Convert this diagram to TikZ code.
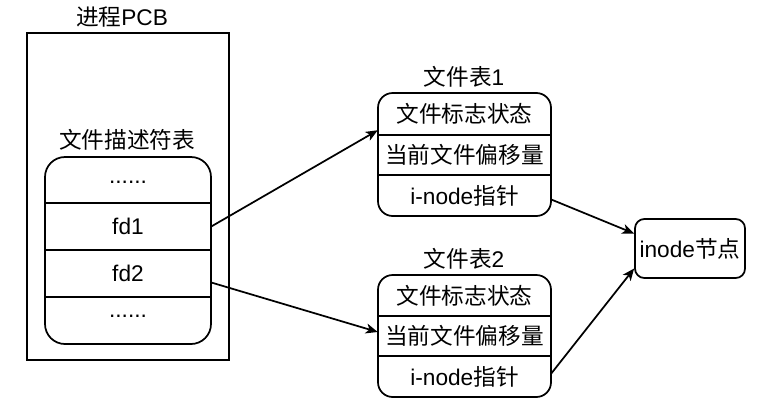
\documentclass[tikz,border=0pt]{standalone}
\usepackage{fontspec}
\setmainfont{Liberation Sans}
\newfontfamily\cjk{Noto Sans CJK SC}
\usetikzlibrary{fit,calc,arrows.meta}
\begin{document}
\begin{tikzpicture}[x=0.75pt,y=-0.75pt,
  every node/.style={font=\fontsize{17}{20}\selectfont, inner sep=0pt},
  box/.style={draw, line width=1.3pt},
  row/.style={inner sep=0pt},
  txt/.style={inner sep=0pt},
  sep/.style={line width=1.3pt},
  conn/.style={line width=1.3pt, -{Stealth[length=9pt,width=7.5pt,inset=2.5pt]}}]
\useasboundingbox[fill=white] (0,0) rectangle (759,400);
% PCB
\node[box, fit={(27,33) (229,360)}] (pcb) {};
\node[txt] (pcblbl) at (122,17) {{\cjk 进程}PCB};
\node[txt] (fdlbl) at (127,140) {\cjk 文件描述符表};
% fd table
\node[box, rounded corners=15pt, fit={(45,157) (211,344)}] (fdt) {};
\node[row, fit={(45,157) (211,203)}] (fd0) {};
\node[row, fit={(45,203) (211,250)}] (fd1) {};
\node[row, fit={(45,250) (211,297)}] (fd2) {};
\node[row, fit={(45,297) (211,344)}] (fd3) {};
\node[txt] (fd0t) at ($(fd0.center)+(0,2)$) {......};
\node[txt] (fd1t) at (fd1.center) {fd1};
\node[txt] (fd2t) at (fd2.center) {fd2};
\node[txt] (fd3t) at ($(fd3.center)+(0,-4)$) {......};
\draw[sep] (fd0.south west) -- (fd0.south east);
\draw[sep] (fd1.south west) -- (fd1.south east);
\draw[sep] (fd2.south west) -- (fd2.south east);
% file table 1
\node[txt] (t1lbl) at (464,77) {{\cjk 文件表}1};
\node[box, rounded corners=11pt, fit={(378,93) (551,216)}] (t1) {};
\node[row, fit={(378,93) (551,135)}] (t1a) {};
\node[row, fit={(378,135) (551,175)}] (t1b) {};
\node[row, fit={(378,175) (551,216)}] (t1c) {};
\node[txt] at (t1a.center) {\cjk 文件标志状态};
\node[txt] at (t1b.center) {\cjk 当前文件偏移量};
\node[txt] at (t1c.center) {i-node{\cjk 指针}};
\draw[sep] (t1a.south west) -- (t1a.south east);
\draw[sep] (t1b.south west) -- (t1b.south east);
% file table 2
\node[txt] (t2lbl) at (464,259) {{\cjk 文件表}2};
\node[box, rounded corners=11pt, fit={(378,275) (551,397)}] (t2) {};
\node[row, fit={(378,275) (551,316)}] (t2a) {};
\node[row, fit={(378,316) (551,356)}] (t2b) {};
\node[row, fit={(378,356) (551,397)}] (t2c) {};
\node[txt] at (t2a.center) {\cjk 文件标志状态};
\node[txt] at (t2b.center) {\cjk 当前文件偏移量};
\node[txt] at (t2c.center) {i-node{\cjk 指针}};
\draw[sep] (t2a.south west) -- (t2a.south east);
\draw[sep] (t2b.south west) -- (t2b.south east);
% inode
\node[box, rounded corners=7pt, fit={(635,219) (745,278)}] (inode) {};
\node[txt] (inodetxt) at (inode.center) {inode{\cjk 节点}};
% connectors
\draw[conn] (fd1.east) -- ($(t1a.south west)+(0,-5)$);
\draw[conn] ($(fd2.east)+(0,9)$) -- ($(t2b.west)+(0,-4)$);
\draw[conn] ($(t1c.east)+(0,4)$) -- ($(inode.west)+(0,-15)$);
\draw[conn] ($(t2c.east)+(0,-3)$) -- ($(inode.west)+(0,20)$);
\end{tikzpicture}
\end{document}
